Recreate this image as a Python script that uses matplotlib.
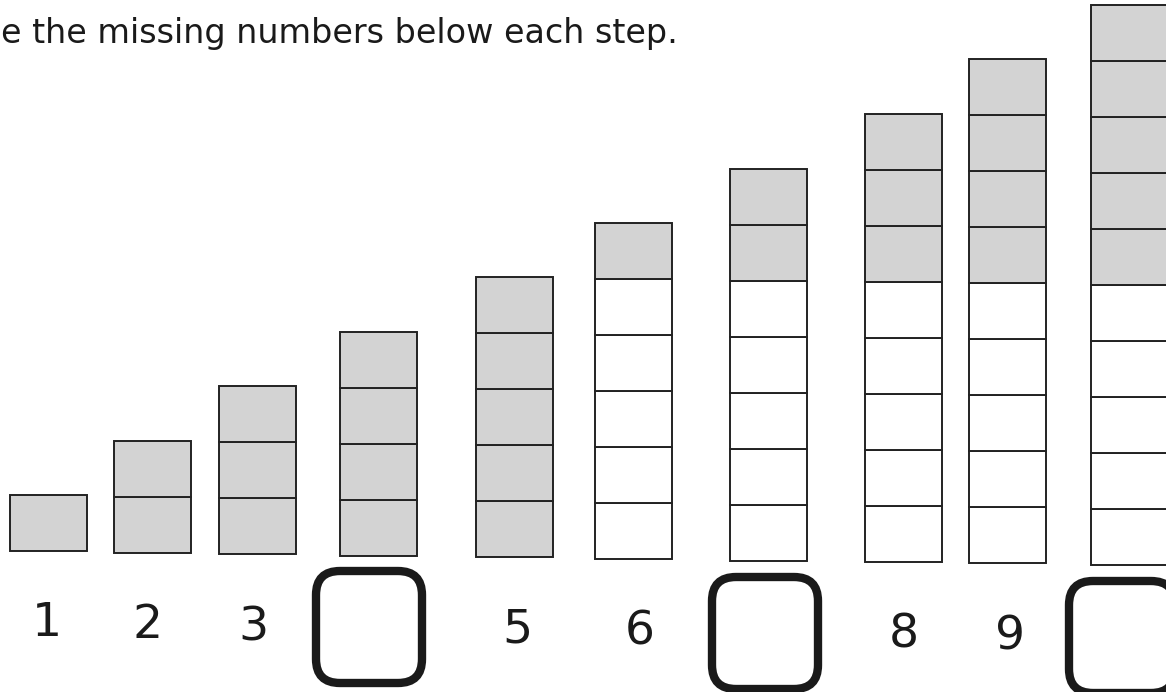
import matplotlib
matplotlib.use("Agg")
import matplotlib.pyplot as plt
from matplotlib.patches import FancyBboxPatch

# data: one column per step, grey blocks then white blocks
steps = [1, 2, 3, 4, 5, 6, 7, 8, 9, 10]
grey_blocks = [1, 2, 3, 4, 5, 1, 2, 3, 4, 5]
white_blocks = [0, 0, 0, 0, 0, 5, 5, 5, 5, 5]
shown = [True, True, True, False, True, True, False, True, True, False]
heading = "e the missing numbers below each step."

# layout (pixels on a 1166x692 page)
col_left = [10, 114, 219, 340, 476, 595, 730, 865, 969, 1091]
col_base = [551, 553, 554, 556, 557, 559, 561, 562, 563, 565]
col_w = 77
unit = 56
label_x = [47, 148, 253, 369, 517, 640, 765, 904, 1010, 1122]
label_y = [623, 625, 628, 627, 630, 632, 633, 635, 637, 637]
box_w, box_h = 106, 112

fig = plt.figure(figsize=(11.66, 6.92), dpi=100)
ax = fig.add_axes([0, 0, 1, 1])
ax.set_xlim(0, 1166)
ax.set_ylim(692, 0)
ax.axis("off")

for i, n in enumerate(steps):
    total = grey_blocks[i] + white_blocks[i]
    bottoms = [col_base[i] - k * unit for k in range(total)]
    # white at the bottom, grey stacked on top
    colors = ["white"] * white_blocks[i] + ["#d3d3d3"] * grey_blocks[i]
    ax.bar([col_left[i]] * total, [-unit] * total, bottom=bottoms, width=col_w,
           align="edge", color=colors, edgecolor="#222222", linewidth=1.4)

    if shown[i]:
        ax.text(label_x[i], label_y[i], str(n), fontsize=34, ha="center", va="center",
                family="DejaVu Sans", color="#1a1a1a")
    else:
        box = FancyBboxPatch((label_x[i] - box_w / 2, label_y[i] - box_h / 2),
                             box_w, box_h,
                             boxstyle="round,pad=0,rounding_size=24",
                             facecolor="white", edgecolor="#1a1a1a", linewidth=6,
                             clip_on=False)
        ax.add_patch(box)

ax.text(1, 43, heading, fontsize=24, ha="left", va="baseline", family="DejaVu Sans",
        color="#1a1a1a")

fig.savefig("out.png", dpi=100)
